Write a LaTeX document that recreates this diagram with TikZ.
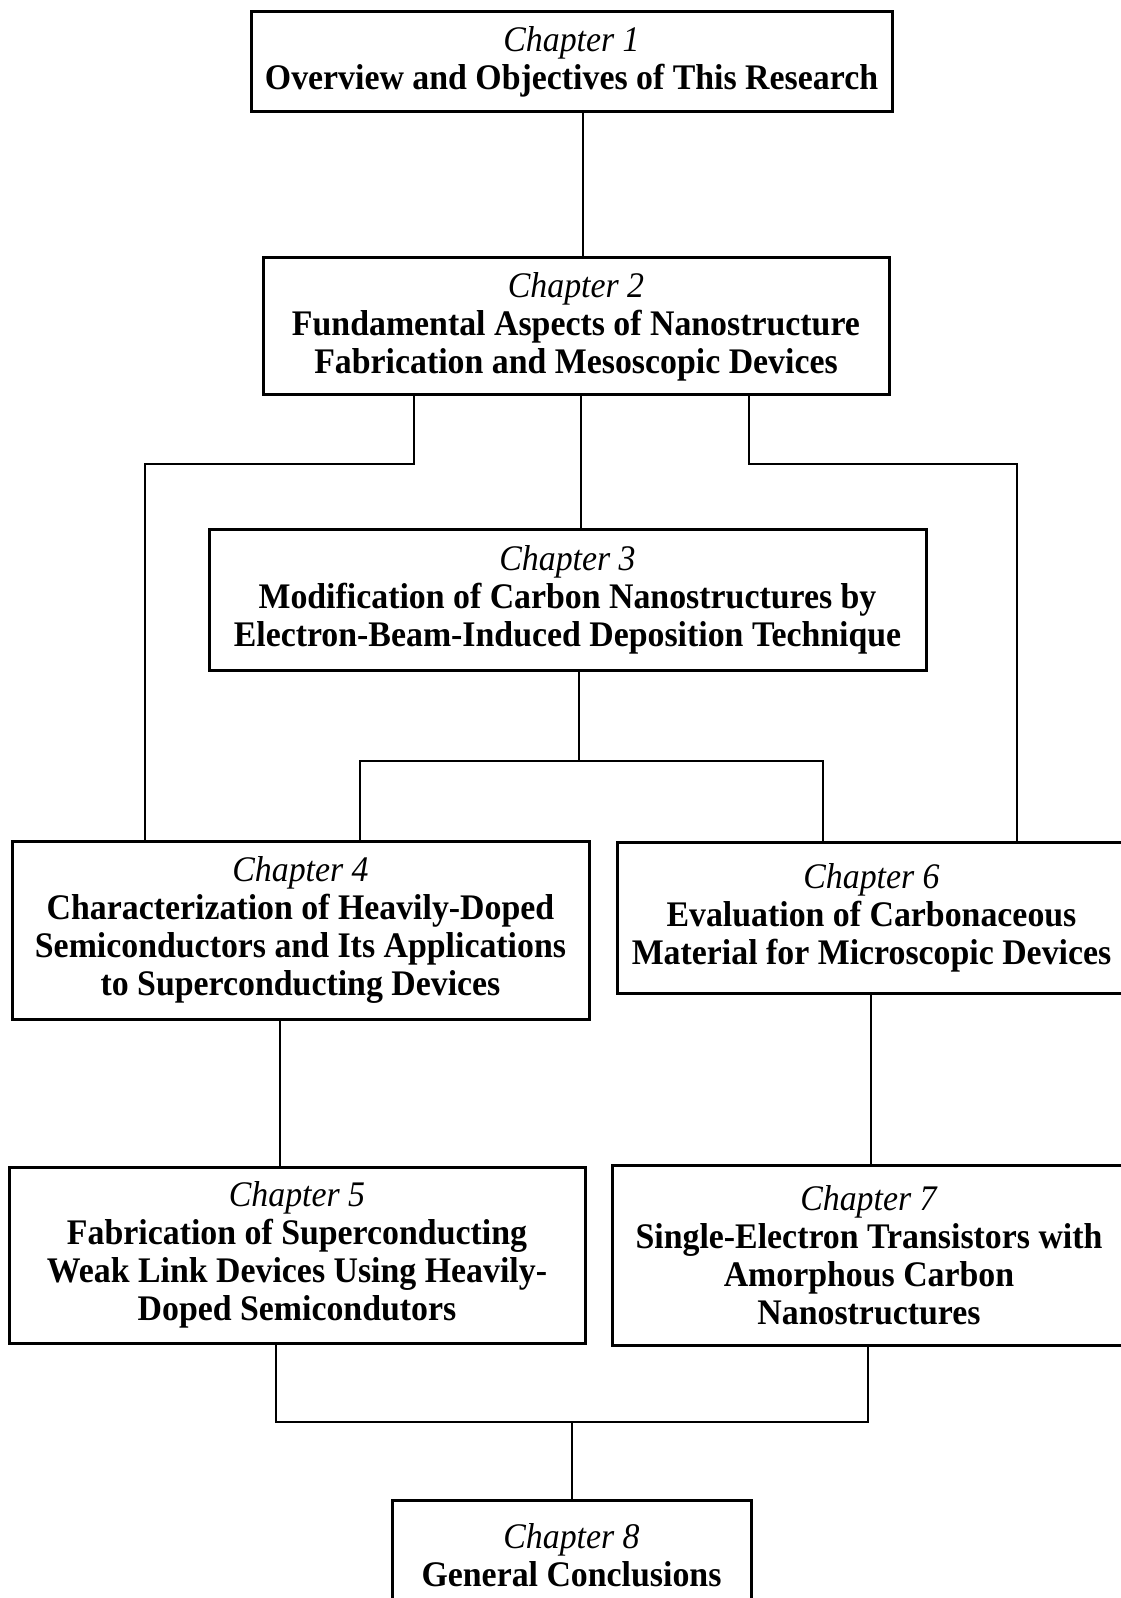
\documentclass[tikz,border=0pt]{standalone}
\usepackage{fontspec}
\setmainfont{Liberation Serif}[FakeStretch=0.94]
\usepackage{tikz}
\usetikzlibrary{calc}

\begin{document}
\begin{tikzpicture}[x=0.5pt, y=-0.5pt,
    chapbox/.style={draw, line width=1.5pt, align=center, inner sep=0pt,
      font=\fontsize{18}{19}\selectfont\bfseries},
    link/.style={line width=0.75pt}]
  \useasboundingbox (0, 0) rectangle (1120, 1598);

  % chapters
  \node[chapbox, minimum width=320.5pt, minimum height=50pt] (ch1) at (571.5, 62)
    {\textmd{\textit{Chapter 1}}\\Overview and Objectives of This Research};
  \node[chapbox, minimum width=313pt, minimum height=68.5pt] (ch2) at (576, 326.5)
    {\textmd{\textit{Chapter 2}}\\Fundamental Aspects of Nanostructure\\Fabrication and Mesoscopic Devices};
  \node[chapbox, minimum width=358.5pt, minimum height=70.5pt] (ch3) at (567.5, 599.5)
    {\textmd{\textit{Chapter 3}}\\Modification of Carbon Nanostructures by\\Electron-Beam-Induced Deposition Technique};
  \node[chapbox, minimum width=288.5pt, minimum height=89pt] (ch4) at (300.5, 930)
    {\textmd{\textit{Chapter 4}}\\Characterization of Heavily-Doped\\Semiconductors and Its Applications\\to Superconducting Devices};
  \node[chapbox, minimum width=254.5pt, minimum height=75.5pt] (ch6) at (871.5, 917.5)
    {\textmd{\textit{Chapter 6}}\\Evaluation of Carbonaceous\\Material for Microscopic Devices};
  \node[chapbox, minimum width=288pt, minimum height=88pt] (ch5) at (297, 1255)
    {\textmd{\textit{Chapter 5}}\\Fabrication of Superconducting\\Weak Link Devices Using Heavily-\\Doped Semicondutors};
  \node[chapbox, minimum width=257pt, minimum height=90pt] (ch7) at (869, 1255)
    {\textmd{\textit{Chapter 7}}\\Single-Electron Transistors with\\Amorphous Carbon\\Nanostructures};
  \node[chapbox, minimum width=179.5pt, minimum height=55pt] (ch8) at (571.5, 1555)
    {\textmd{\textit{Chapter 8}}\\General Conclusions};

  % junction points
  \coordinate (j12) at (583, 0);
  \coordinate (j2l) at (414, 464);
  \coordinate (j2m) at (581, 0);
  \coordinate (j2r) at (749, 464);
  \coordinate (j4) at (145, 464);
  \coordinate (j6) at (1017, 464);
  \coordinate (j3) at (579, 761);
  \coordinate (j3l) at (360, 761);
  \coordinate (j3r) at (823, 761);
  \coordinate (j45) at (280, 0);
  \coordinate (j67) at (871, 0);
  \coordinate (j5) at (276, 1422);
  \coordinate (j7) at (868, 1422);
  \coordinate (j8) at (572, 1422);

  % connectors
  \draw[link] (ch1.south -| j12) -- (ch2.north -| j12);
  \draw[link] (ch2.south -| j2l) -- (j2l) -- (j4) -- (ch4.north -| j4);
  \draw[link] (ch2.south -| j2m) -- (ch3.north -| j2m);
  \draw[link] (ch2.south -| j2r) -- (j2r) -- (j6) -- (ch6.north -| j6);
  \draw[link] (ch3.south -| j3) -- (j3);
  \draw[link] (ch4.north -| j3l) -- (j3l) -- (j3r) -- (ch6.north -| j3r);
  \draw[link] (ch4.south -| j45) -- (ch5.north -| j45);
  \draw[link] (ch6.south -| j67) -- (ch7.north -| j67);
  \draw[link] (ch5.south -| j5) -- (j5) -- (j7) -- (ch7.south -| j7);
  \draw[link] (j8) -- (ch8.north -| j8);
\end{tikzpicture}
\end{document}
